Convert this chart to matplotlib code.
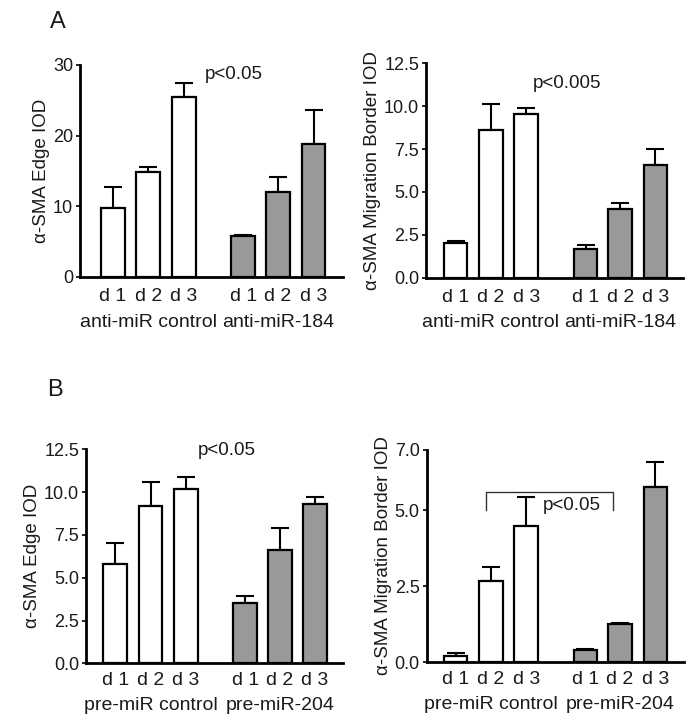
import matplotlib
matplotlib.use("Agg")
import matplotlib.pyplot as plt

plt.rcParams['font.family'] = ['Liberation Sans', 'DejaVu Sans']

day_labels = ["d 1", "d 2", "d 3", "d 1", "d 2", "d 3"]

# Panel A
a_groups = ["anti-miR control", "anti-miR-184"]
a_edge = [9.8, 14.9, 25.4, 5.8, 12.0, 18.8]
a_edge_err = [2.9, 0.7, 2.0, 0.1, 2.1, 4.8]
a_border = [2.0, 8.6, 9.55, 1.65, 4.0, 6.55]
a_border_err = [0.16, 1.55, 0.33, 0.25, 0.35, 0.97]

# Panel B
b_groups = ["pre-miR control", "pre-miR-204"]
b_edge = [5.8, 9.2, 10.2, 3.5, 6.6, 9.3]
b_edge_err = [1.25, 1.4, 0.68, 0.45, 1.3, 0.4]
b_border = [0.21, 2.68, 4.49, 0.4, 1.25, 5.76]
b_border_err = [0.09, 0.47, 0.96, 0.05, 0.05, 0.82]

pos = [0, 1, 2, 3.68, 4.66, 5.66]
colors = ["white"] * 3 + ["#999999"] * 3
fig = plt.figure(figsize=(6.98, 7.27), dpi=100)
TXT = "#1a1a1a"


def panel(rect, vals, errs, ylim, ticks, ticklabels, ylabel, groups, xlim, gy, tpad):
    ax = fig.add_axes(rect)
    ax.bar(pos, vals, width=0.67, color=colors, edgecolor="black",
           linewidth=1.6, zorder=2)
    ax.errorbar(pos, vals, yerr=[[0] * 6, errs], fmt="none", ecolor="black",
                elinewidth=1.5, capsize=6.5, capthick=1.5, zorder=1)
    ax.set_ylim(*ylim)
    ax.set_xlim(*xlim)
    ax.set_yticks(ticks)
    ax.set_yticklabels(ticklabels, fontsize=13, color=TXT)
    ax.set_xticks(pos)
    ax.set_xticklabels(day_labels, fontsize=14, color=TXT)
    ax.tick_params(axis="x", length=0, pad=tpad)
    ax.tick_params(axis="y", length=3, width=1.2, pad=2)
    for s in ["top", "right"]:
        ax.spines[s].set_visible(False)
    for s in ["left", "bottom"]:
        ax.spines[s].set_linewidth(2)
    ax.set_ylabel(ylabel, fontsize=13.5, color=TXT, labelpad=2)
    ax.text(1, -gy, groups[0], transform=ax.get_xaxis_transform(),
            ha="center", va="center", fontsize=14, color=TXT)
    ax.text(4.66, -gy, groups[1], transform=ax.get_xaxis_transform(),
            ha="center", va="center", fontsize=14, color=TXT)
    return ax


ax1 = panel([0.1146, 0.619, 0.3768, 0.2916], a_edge, a_edge_err, (0, 30),
            [0, 10, 20, 30], ["0", "10", "20", "30"], "α-SMA Edge IOD",
            a_groups, (-0.92, 6.49), 0.213, 8)
ax1.text(3.4, 28.6, "p<0.05", fontsize=13.5, color=TXT, ha="center", va="center")

ax2 = panel([0.6103, 0.618, 0.3682, 0.2949], a_border, a_border_err, (0, 12.5),
            [0, 2.5, 5, 7.5, 10, 12.5], ["0.0", "2.5", "5.0", "7.5", "10.0", "12.5"],
            "α-SMA Migration Border IOD", a_groups, (-0.84, 6.44), 0.211, 8)
ax2.text(3.15, 11.35, "p<0.005", fontsize=13.5, color=TXT, ha="center", va="center")

ax3 = panel([0.1232, 0.0876, 0.3682, 0.2944], b_edge, b_edge_err, (0, 12.5),
            [0, 2.5, 5, 7.5, 10, 12.5], ["0.0", "2.5", "5.0", "7.5", "10.0", "12.5"],
            "α-SMA Edge IOD", b_groups, (-0.83, 6.45), 0.196, 6)
ax3.text(3.17, 12.45, "p<0.05", fontsize=13.5, color=TXT, ha="center", va="center")

ax4 = panel([0.6113, 0.089, 0.368, 0.2927], b_border, b_border_err, (0, 7.0),
            [0, 2.5, 5, 7], ["0.0", "2.5", "5.0", "7.0"],
            "α-SMA Migration Border IOD", b_groups, (-0.82, 6.46), 0.197, 6)
ax4.plot([0.86, 0.86, 4.47, 4.47], [5.02, 5.61, 5.61, 5.02], color="#333333",
         linewidth=1.0, zorder=3)
ax4.text(3.3, 5.15, "p<0.05", fontsize=13.5, color=TXT, ha="center",
         va="center", zorder=4)

fig.text(0.083, 0.97, "A", fontsize=17, ha="center", va="center", color=TXT)
fig.text(0.078, 0.4636, "B", fontsize=17, ha="center", va="center", color=TXT)

fig.savefig("out.png", dpi=100)
